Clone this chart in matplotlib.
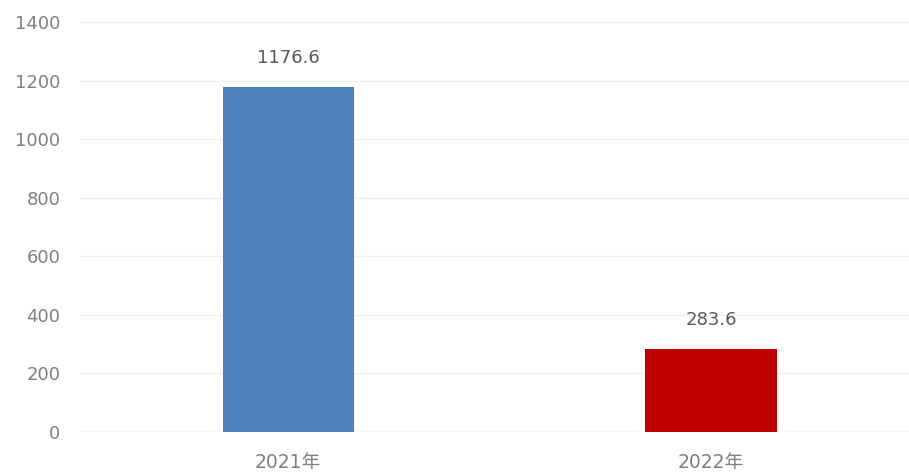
import matplotlib.pyplot as plt
import numpy as np

plt.rcParams['font.family'] = ['DejaVu Sans', 'Noto Sans CJK SC']

years = ['2021年', '2022年']
values = [1176.6, 283.6]
colors = ['#4F81BD', '#C00000']
yticks = [0, 200, 400, 600, 800, 1000, 1200, 1400]

fig = plt.figure(figsize=(9.09, 4.76), dpi=100)
ax = fig.add_axes([80 / 909, 44 / 476, 1 - 80 / 909, (432 - 22) / 476])

x = np.arange(len(years))
bars = ax.bar(x, values, width=0.31, color=colors, zorder=3)

for b, v in zip(bars, values):
    ax.annotate(f'{v:.1f}', (b.get_x() + b.get_width() / 2, v),
                xytext=(0, 21), textcoords='offset points',
                ha='center', va='center', fontsize=13, color='#595959')

ax.set_xlim(-0.492, 1.468)
ax.set_ylim(0, 1400)
ax.set_yticks(yticks)
ax.set_xticks(x)
ax.set_xticklabels(years)
ax.tick_params(axis='y', length=0, pad=14, labelsize=13, labelcolor='#808080')
ax.tick_params(axis='x', length=0, pad=15, labelsize=13.5, labelcolor='#808080')
ax.grid(axis='y', color='#f0f0f0', linewidth=1, zorder=0)
ax.axhline(0, color='#e6e6e6', linewidth=1, zorder=2)
for s in ax.spines.values():
    s.set_visible(False)

fig.savefig('out.png', dpi=100)
